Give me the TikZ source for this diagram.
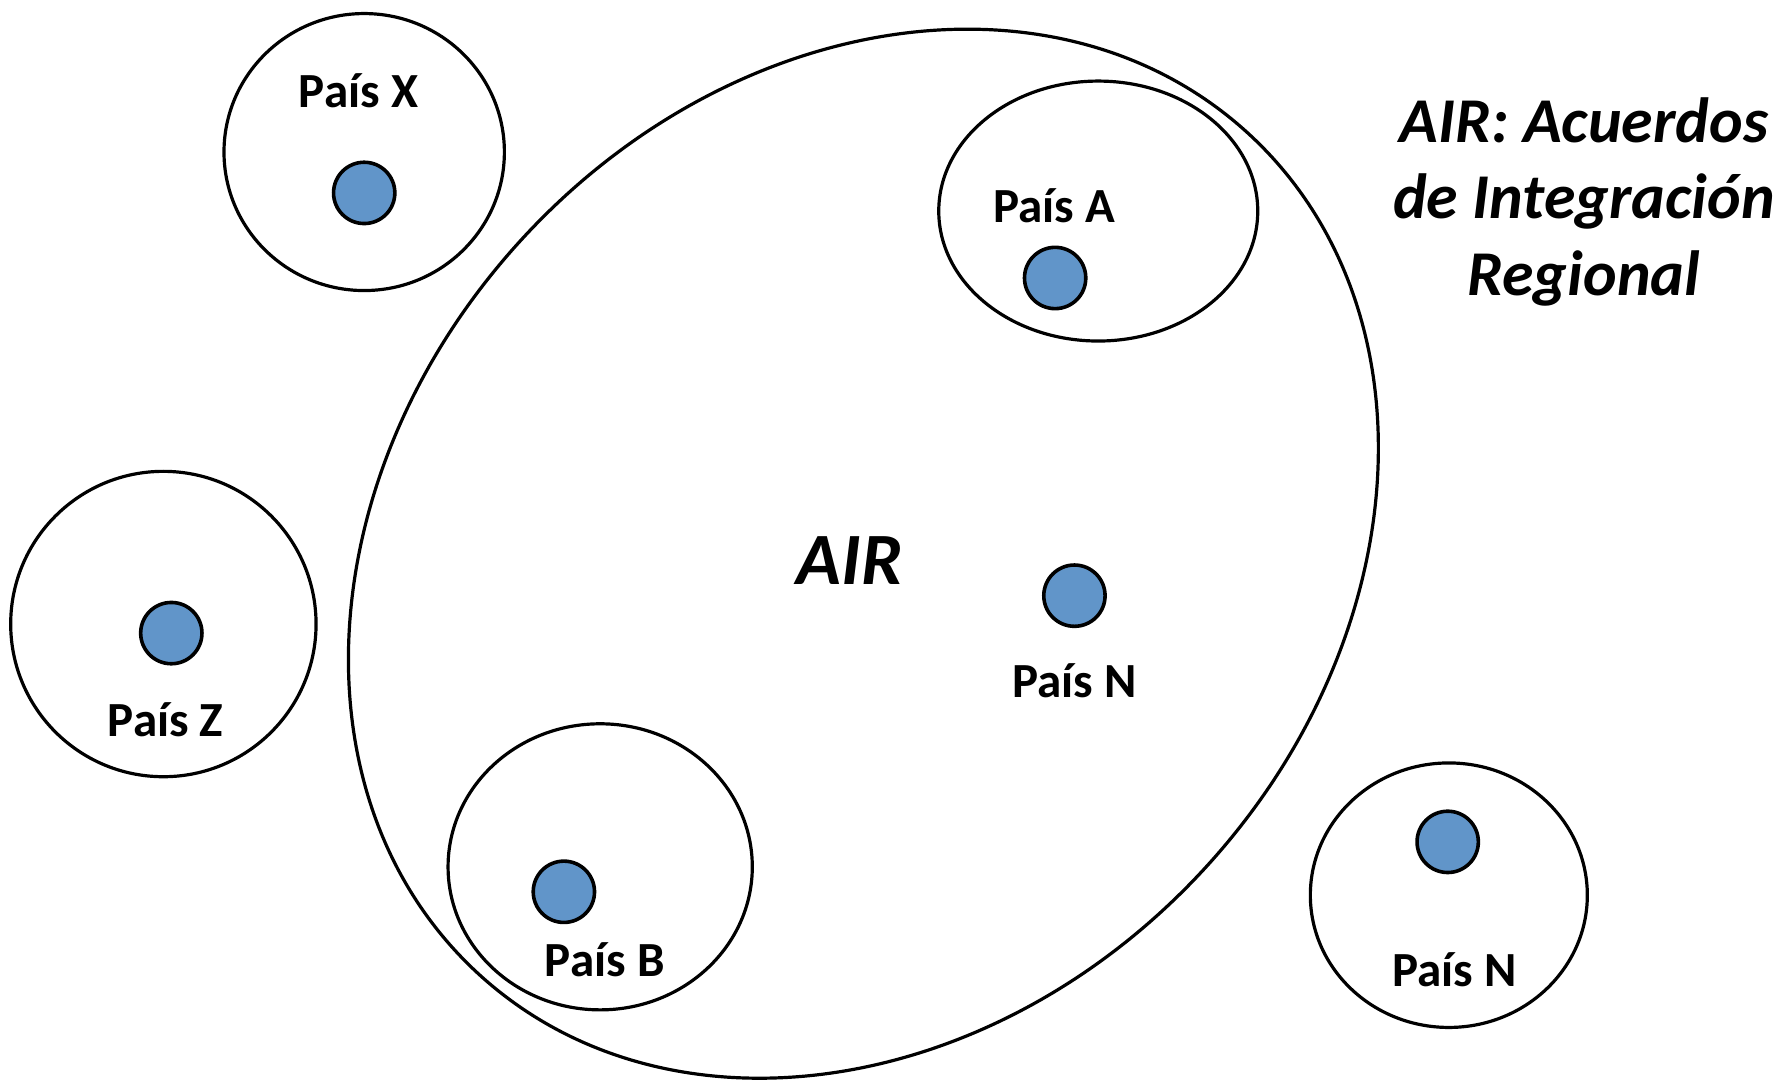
\documentclass[tikz,border=0pt]{standalone}
\usepackage{fontspec}
\setmainfont{Carlito}
\usetikzlibrary{shapes.geometric}
\definecolor{dotblue}{RGB}{97,149,201}
\begin{document}
\begin{tikzpicture}[x=0.01cm,y=-0.01cm,
  ring/.style={draw=black,line width=0.8pt,ellipse,inner sep=0pt},
  dot/.style={draw=black,line width=0.9pt,fill=dotblue,circle,inner sep=0pt,minimum size=0.54cm},
  lbl/.style={font=\bfseries\fontsize{12.3}{14}\selectfont,inner sep=0pt}]
\useasboundingbox (0,0) rectangle (1568,953);
% big AIR ellipse
\node[ring,minimum width=10.04cm,minimum height=8.18cm,rotate=47.6] (air) at (761,488) {};
% country rings
\node[ring,minimum width=2.47cm,minimum height=2.44cm] (rx) at (321,134) {};
\node[ring,minimum width=2.81cm,minimum height=2.29cm] (ra) at (968,186) {};
\node[ring,minimum width=2.69cm,minimum height=2.69cm] (rz) at (144,550) {};
\node[ring,minimum width=2.68cm,minimum height=2.52cm] (rb) at (529,764) {};
\node[ring,minimum width=2.44cm,minimum height=2.33cm] (rn) at (1277,789) {};
% dots
\node[dot] (dx) at (321,170) {};
\node[dot] (da) at (930,245) {};
\node[dot] (dz) at (151,558) {};
\node[dot] (db) at (497,786) {};
\node[dot] (dn1) at (947,525) {};
\node[dot] (dn2) at (1276,742) {};
% labels
\node[lbl] (lx) at (316,80) {País X};
\node[lbl] (la) at (929,181) {País A};
\node[lbl] (lz) at (146,634) {País Z};
\node[lbl] (lb) at (533,846) {País B};
\node[lbl] (ln1) at (947,600) {País N};
\node[lbl] (ln2) at (1282,855) {País N};
\node[font=\bfseries\itshape\fontsize{18.5}{22}\selectfont,inner sep=0pt] (lair) at (749,494) {AIR};
\node[font=\bfseries\itshape\fontsize{16}{19.1}\selectfont,align=center,inner sep=0pt] (title) at (1396,178) {AIR: Acuerdos\\de Integración\\Regional};
\end{tikzpicture}
\end{document}
